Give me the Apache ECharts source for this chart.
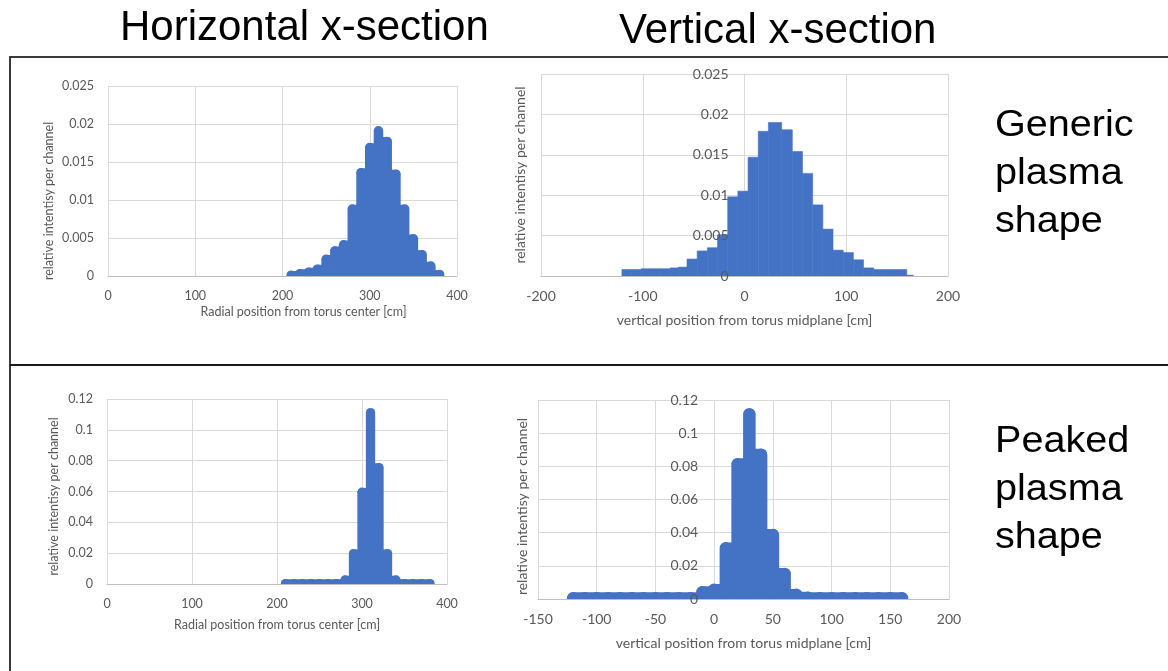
<!DOCTYPE html>
<html><head><meta charset="utf-8">
<script src="https://cdn.jsdelivr.net/npm/echarts@6/dist/echarts.min.js"></script>
<style>html,body{margin:0;padding:0;background:#fff}#c{width:1168px;height:671px}</style>
</head><body><div id="c"></div>
<script>
// ---------------- data ----------------
const binWidth = 10;
// horizontal cross-section (radial position, cm) - bin centers
const hCenters = [210,220,230,240,250,260,270,280,290,300,310,320,330,340,350,360,370,380];
const hGenericValues = [0.0001,0.0003,0.0005,0.0009,0.0022,0.0033,0.0041,0.0088,0.0136,0.0169,0.0191,0.0177,0.0134,0.0088,0.0049,0.0028,0.0013,0.0002];
const hPeakedValues  = [0.0003,0.0003,0.0003,0.0003,0.0003,0.0003,0.0003,0.0026,0.0197,0.0595,0.1112,0.0755,0.0197,0.0026,0.0003,0.0003,0.0003,0.0003];
// vertical cross-section, peaked (bin centers)
const vPeakedCenters = [-120,-110,-100,-90,-80,-70,-60,-50,-40,-30,-20,-10,0,10,20,30,40,50,60,70,80,90,100,110,120,130,140,150,160];
const vPeakedValues  = [0.0005,0.0005,0.0005,0.0005,0.0005,0.0005,0.0005,0.0005,0.0005,0.0005,0.0005,0.0041,0.0055,0.0306,0.0813,0.1114,0.0870,0.0386,0.0151,0.0025,0.0008,0.0005,0.0005,0.0005,0.0005,0.0005,0.0005,0.0005,0.0005];
// vertical cross-section, generic (bin edges + values)
const vGenericEdges = [-120.5,-111,-101.5,-92,-82.5,-73,-65,-56.5,-46.5,-36.5,-26.5,-16.5,-6.5,3.5,13.5,23.5,36.5,47,57,67,77,87,97,107,117,127,137,147,159.5,166];
const vGenericValues = [0.0008,0.0008,0.0009,0.0009,0.0009,0.0010,0.0011,0.0021,0.0031,0.0035,0.0051,0.0098,0.0105,0.0147,0.0179,0.0190,0.0181,0.0154,0.0127,0.0088,0.0058,0.0032,0.0029,0.0020,0.0010,0.0008,0.0008,0.0008,0.0001];
// axis ticks
const hXTicks = [0,100,200,300,400];
const vGenericXTicks = [-200,-100,0,100,200];
const vPeakedXTicks = [-150,-100,-50,0,50,100,150,200];
const genericYTicks = [0,0.005,0.01,0.015,0.02,0.025];
const peakedYTicks = [0,0.02,0.04,0.06,0.08,0.1,0.12];

// ---------------- styles ----------------
const BLUE = '#4472C4';
const GRIDC = '#D9D9D9';
const TXT = '#595959';
const FONT = 'Lato, "Open Sans", sans-serif';

function rng(t){ return {min:t[0], max:t[t.length-1], interval:t[1]-t[0]}; }

// thick rounded "stroke" histogram: vertical round-capped stroke per bin,
// plus a flat round-capped connector at the lower of two neighbouring heights
function makePill(centers, values){
  return function(params, api){
    const i = params.dataIndex;
    const x = api.value(0), y = api.value(1);
    const w = api.size([binWidth, 0])[0];
    const b = api.coord([x, 0]);
    const t = api.coord([x, y]);
    const children = [{type:'line', shape:{x1:b[0], y1:b[1], x2:t[0], y2:t[1]},
          style:{stroke:BLUE, lineWidth:w + 0.8, lineCap:'round', fill:null}}];
    if (i < centers.length - 1) {
      const yn = Math.min(y, values[i+1]);
      const p = api.coord([x, yn]);
      const q = api.coord([centers[i+1], yn]);
      children.push({type:'line', shape:{x1:p[0], y1:p[1], x2:q[0], y2:q[1]},
          style:{stroke:BLUE, lineWidth:w, lineCap:'round', fill:null}});
    }
    return {type:'group', children:children};
  };
}
function rectItem(params, api){
  const p1 = api.coord([api.value(0), api.value(2)]);
  const p2 = api.coord([api.value(1), 0]);
  return {type:'rect', shape:{x:p1[0], y:p1[1], width:p2[0]-p1[0], height:p2[1]-p1[1]},
          style:{fill:BLUE, stroke:BLUE, lineWidth:0.6}};
}

function xAx(grid, ticks, name, fs, gap, pad){
  return Object.assign({gridIndex:grid, type:'value'}, rng(ticks), {
    name:name, nameLocation:'middle', nameGap:gap,
    nameTextStyle:{color:TXT, fontFamily:FONT, fontSize:fs, padding:pad||0},
    axisLine:{show:true, onZero:true, lineStyle:{color:'#BFBFBF', width:1}},
    axisTick:{show:false},
    axisLabel:{color:TXT, fontFamily:FONT, fontSize:fs, margin:13, showMinLabel:true, showMaxLabel:true},
    splitLine:{show:true, lineStyle:{color:GRIDC, width:1}}
  });
}
function yGridAx(grid, ticks, name, fs, gap, pad, showLabels, margin){
  return Object.assign({gridIndex:grid, type:'value', position:'left'}, rng(ticks), {
    name:name, nameLocation:'middle', nameGap:gap,
    nameTextStyle:{color:TXT, fontFamily:FONT, fontSize:fs, padding:pad||0},
    axisLine:{show:false, onZero:false},
    axisTick:{show:false},
    axisLabel:{show:!!showLabels, color:TXT, fontFamily:FONT, fontSize:fs, margin:margin||14, showMinLabel:true, showMaxLabel:true},
    splitLine:{show:true, lineStyle:{color:GRIDC, width:1}}
  });
}
// label-only y axis drawn above the bars, shifted to x = 0 of its grid
function yLabelAx(grid, ticks, fs, margin, offset){
  return Object.assign({gridIndex:grid, type:'value', position:'left', z:10, offset:offset}, rng(ticks), {
    axisLine:{show:false, onZero:false},
    axisTick:{show:false},
    axisLabel:{color:TXT, fontFamily:FONT, fontSize:fs, margin:margin, showMinLabel:true, showMaxLabel:true},
    splitLine:{show:false}
  });
}

const YNAME = 'relative intentisy per channel';
const FL = 12.5, FR = 14;
const G = [
  {left:108, top:86, width:349, height:190},
  {left:541, top:74, width:407, height:202},
  {left:107, top:399, width:340, height:185},
  {left:538, top:400, width:411, height:199}
];
// pixel distance from grid left edge to x = 0 (for the label axes)
function zeroOffset(g, ticks){ return -g.width * (0 - ticks[0]) / (ticks[ticks.length-1] - ticks[0]); }

const option = {
  backgroundColor:'#ffffff',
  animation:false,
  grid: G.map(g => Object.assign({containLabel:false, outerBoundsMode:'none'}, g)),
  xAxis:[
    xAx(0, hXTicks, 'Radial position from torus center [cm]', FL, 29, [0,0,0,42]),
    xAx(1, vGenericXTicks, 'vertical position from torus midplane [cm]', FR, 37),
    xAx(2, hXTicks, 'Radial position from torus center [cm]', FL, 34),
    xAx(3, vPeakedXTicks, 'vertical position from torus midplane [cm]', FR, 37)
  ],
  yAxis:[
    yGridAx(0, genericYTicks, YNAME, FL, 53, [0,40,0,0], true, 14),
    yGridAx(1, genericYTicks, YNAME, FR, 14, 0, false),
    yLabelAx(1, genericYTicks, FR, 16, zeroOffset(G[1], vGenericXTicks)),
    yGridAx(2, peakedYTicks, YNAME, FL, 47, [0,10,0,0], true, 14),
    yGridAx(3, peakedYTicks, YNAME, FR, 9, [0,14,0,0], false),
    yLabelAx(3, peakedYTicks, FR, 16, zeroOffset(G[3], vPeakedXTicks))
  ],
  series:[
    {type:'custom', xAxisIndex:0, yAxisIndex:0, clip:true, renderItem:makePill(hCenters, hGenericValues), encode:{x:0,y:1},
     data: hCenters.map((c,i)=>[c, hGenericValues[i]])},
    {type:'custom', xAxisIndex:1, yAxisIndex:1, clip:true, renderItem:rectItem, encode:{x:[0,1],y:2},
     data: vGenericValues.map((v,i)=>[vGenericEdges[i], vGenericEdges[i+1], v])},
    {type:'custom', xAxisIndex:2, yAxisIndex:3, clip:true, renderItem:makePill(hCenters, hPeakedValues), encode:{x:0,y:1},
     data: hCenters.map((c,i)=>[c, hPeakedValues[i]])},
    {type:'custom', xAxisIndex:3, yAxisIndex:4, clip:true, renderItem:makePill(vPeakedCenters, vPeakedValues), encode:{x:0,y:1},
     data: vPeakedCenters.map((c,i)=>[c, vPeakedValues[i]])}
  ],
  graphic:[
    {type:'polyline', silent:true, shape:{points:[[1172,57],[10,57],[10,675]]},
     style:{stroke:'#3a3a3a', lineWidth:2, fill:null}},
    {type:'line', silent:true, shape:{x1:10, y1:365, x2:1172, y2:365},
     style:{stroke:'#1a1a1a', lineWidth:2}},
    {type:'text', silent:true, x:120, y:28,
     style:{text:'Horizontal x-section', fill:'#000', font:'42px "Liberation Sans", Arial, sans-serif', textVerticalAlign:'middle'}},
    {type:'text', silent:true, x:619, y:31,
     style:{text:'Vertical x-section', fill:'#000', font:'42px "Liberation Sans", Arial, sans-serif', textVerticalAlign:'middle'}},
    {type:'text', silent:true, x:995, y:102, scaleX:1.1,
     style:{text:'Generic\nplasma\nshape', fill:'#000', font:'36px "Liberation Sans", Arial, sans-serif', lineHeight:48, textVerticalAlign:'top'}},
    {type:'text', silent:true, x:995, y:418, scaleX:1.1,
     style:{text:'Peaked\nplasma\nshape', fill:'#000', font:'36px "Liberation Sans", Arial, sans-serif', lineHeight:48, textVerticalAlign:'top'}}
  ]
};

const chart = echarts.init(document.getElementById('c'), null, {renderer:'canvas'});
chart.setOption(option);
</script>
</body></html>
